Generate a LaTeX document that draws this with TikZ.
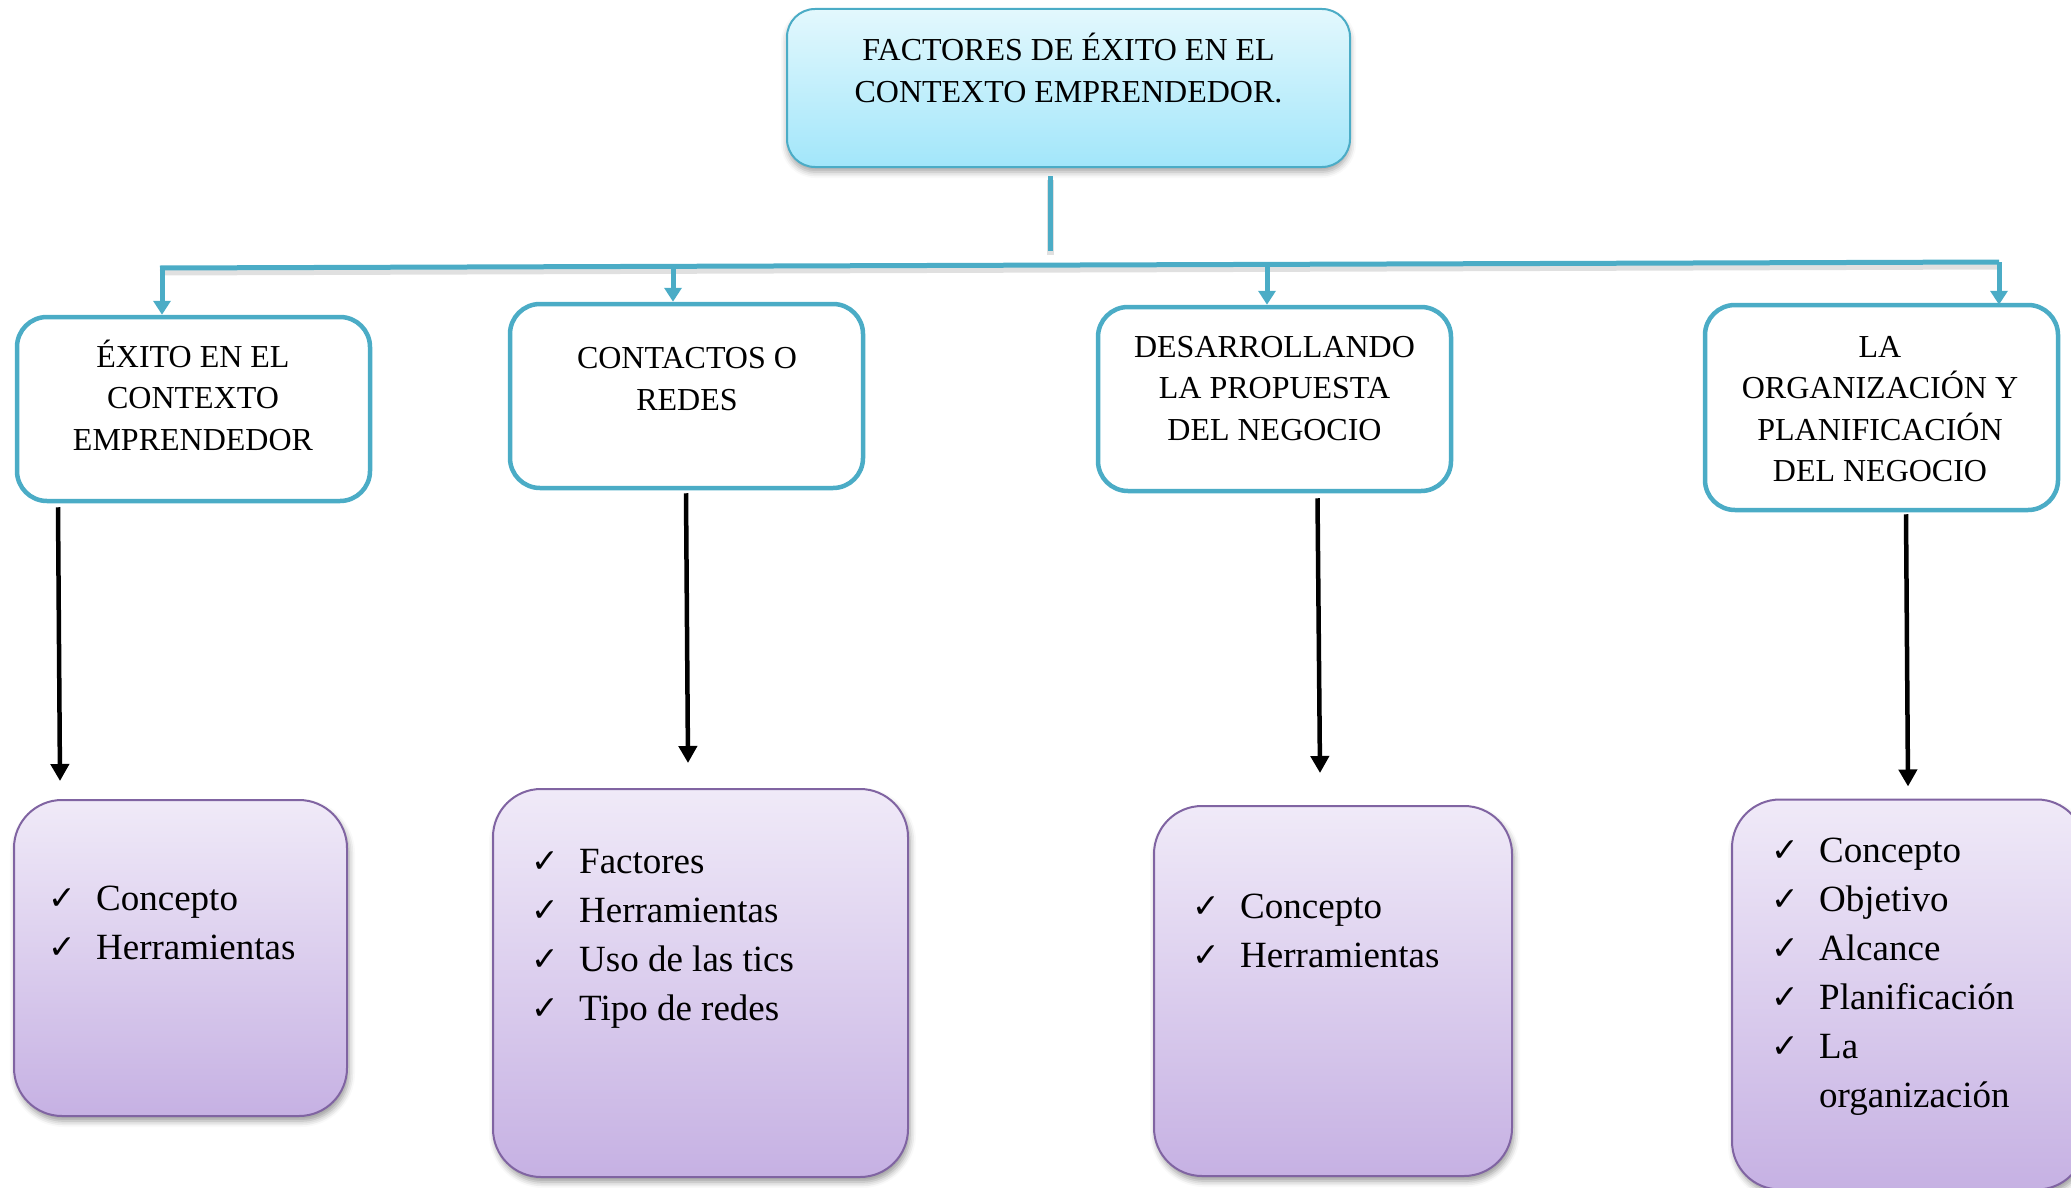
\documentclass[tikz,border=0pt]{standalone}
\usepackage{fontspec}
\setmainfont{Liberation Serif}
\newfontfamily\symfont{DejaVu Sans}
\usetikzlibrary{shadows.blur,arrows.meta}

\definecolor{accentblue}{HTML}{4BACC6}
\definecolor{titletop}{HTML}{E3F8FD}
\definecolor{titlebot}{HTML}{A2E6FA}
\definecolor{lilactop}{HTML}{F0EAF8}
\definecolor{lilacbot}{HTML}{C6B1E3}
\definecolor{lilacedge}{HTML}{8064A2}

% check mark followed by the gap before the item text
\newcommand{\ck}{\makebox[46pt][l]{\hspace{-2pt}\raisebox{1pt}{\symfont\bfseries\fontsize{33}{33}\selectfont ✓}}}
\newcommand{\headfont}{\fontsize{32}{41.5}\selectfont}
\newcommand{\listfont}{\fontsize{37}{49}\selectfont}
\newcommand{\lines}[1]{\begin{tabular}[t]{@{}c@{}}#1\end{tabular}}
\newcommand{\checks}[1]{\begin{tabular}[t]{@{}l@{}l@{}}#1\end{tabular}}

\tikzset{
  titlebox/.style={draw=accentblue, line width=2pt, rounded corners=28pt,
    top color=titletop, bottom color=titlebot, inner sep=0pt,
    blur shadow={shadow xshift=0pt, shadow yshift=-5pt, shadow blur radius=6pt, shadow opacity=35}},
  topicbox/.style={draw=accentblue, line width=4.5pt, rounded corners=30pt, fill=white, inner sep=0pt},
  listbox/.style={draw=lilacedge, line width=2pt, rounded corners=48pt,
    top color=lilactop, bottom color=lilacbot, inner sep=0pt,
    blur shadow={shadow xshift=2pt, shadow yshift=-5pt, shadow blur radius=6pt, shadow opacity=40}},
  caption/.style={anchor=base, inner sep=0pt, font=\headfont},
  items/.style={anchor=base west, inner sep=0pt, font=\listfont},
  branch/.style={draw=accentblue, line width=5pt},
  branchshadow/.style={draw=black, opacity=0.12, line width=7pt},
  drop/.style={branch, -{Triangle[width=17pt,length=14pt]}},
  down/.style={line width=4.5pt, -{Triangle[width=18pt,length=17pt]}},
}

\begin{document}
\begin{tikzpicture}[x=1pt,y=-1pt]
\useasboundingbox (0,0) rectangle (2071,1188);

% ---- headline box
\node[titlebox, minimum width=563pt, minimum height=158pt] (top) at (1068.5,88) {};
\node[caption] (toptxt) at (1068.5,61) {\lines{FACTORES DE ÉXITO EN EL\\CONTEXTO EMPRENDEDOR.}};

% ---- topic boxes
\node[topicbox, minimum width=353pt, minimum height=184pt] (b1) at (193.5,409) {};
\node[topicbox, minimum width=353pt, minimum height=184pt] (b2) at (686.5,396) {};
\node[topicbox, minimum width=353pt, minimum height=184pt] (b3) at (1274.5,399) {};
\node[topicbox, minimum width=353pt, minimum height=205pt] (b4) at (1881.5,407.5) {};

\node[caption] (b1txt) at (193,367) {\lines{ÉXITO EN EL\\CONTEXTO\\EMPRENDEDOR}};
\node[caption] (b2txt) at (687,368.5) {\lines{CONTACTOS O\\REDES}};
\node[caption] (b3txt) at (1274.5,357) {\lines{DESARROLLANDO\\LA PROPUESTA\\DEL NEGOCIO}};
\node[caption] (b4txt) at (1880,357) {\lines{LA\\ORGANIZACIÓN Y\\PLANIFICACIÓN\\DEL NEGOCIO}};

% ---- item boxes
\node[listbox, minimum width=333pt, minimum height=316pt] (p1) at (180.5,958) {};
\node[listbox, minimum width=415pt, minimum height=388pt] (p2) at (700.5,983) {};
\node[listbox, minimum width=358pt, minimum height=370pt] (p3) at (1333,991) {};
\node[listbox, minimum width=353pt, minimum height=390pt] (p4) at (1908.5,994.5) {};

\node[items] (p1txt) at (50,910) {\checks{\ck & Concepto\\ \ck & Herramientas}};
\node[items] (p2txt) at (533,873) {\checks{\ck & Factores\\ \ck & Herramientas\\ \ck & Uso de las tics\\ \ck & Tipo de redes}};
\node[items] (p3txt) at (1194,918) {\checks{\ck & Concepto\\ \ck & Herramientas}};
\node[items] (p4txt) at (1773,862) {\checks{\ck & Concepto\\ \ck & Objetivo\\ \ck & Alcance\\ \ck & Planificación\\ \ck & La\\ & organización}};

% ---- distribution bar
\coordinate (stemtop) at (1050,176);
\coordinate (stemend) at (1050,251);
\coordinate (barL) at (160,268);
\coordinate (barR) at (1999,262);
\coordinate (j1) at (162,268);
\coordinate (j2) at (673,266.3);
\coordinate (j3) at (1267,264.4);
\coordinate (j4) at (1999,262);

\draw[branchshadow] ([yshift=-4pt]stemtop) -- ([yshift=-4pt]stemend);
\draw[branchshadow] ([yshift=-4pt]barL) -- ([yshift=-4pt]barR);
\draw[branch] (stemtop) -- (stemend);
\draw[branch] (barL) -- (barR);
\draw[drop] (j1) -- (b1.north -| j1);
\draw[drop] (j2) -- (b2.north -| j2);
\draw[drop] (j3) -- (b3.north -| j3);
\draw[drop] (j4) -- ([yshift=-2pt]b4.north -| j4);

% ---- arrows from topics to items
\draw[down] ([xshift=-135.5pt,yshift=-4pt]b1.south) -- ([xshift=-120.5pt,yshift=18pt]p1.north);
\draw[down] ([xshift=-0.5pt,yshift=-3pt]b2.south) -- ([xshift=-12.5pt,yshift=25pt]p2.north);
\draw[down] ([xshift=43pt,yshift=-5pt]b3.south) -- ([xshift=-13pt,yshift=32pt]p3.north);
\draw[down] ([xshift=24.5pt,yshift=-2pt]b4.south) -- ([xshift=-0.5pt,yshift=12pt]p4.north);
\end{tikzpicture}
\end{document}
